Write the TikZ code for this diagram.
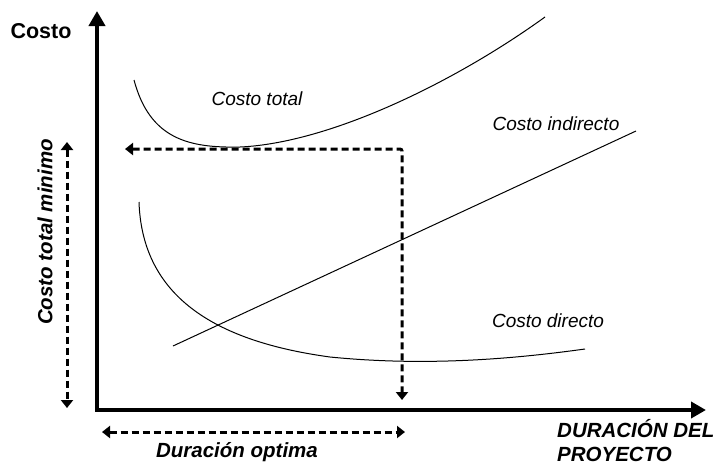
\documentclass[tikz,border=0pt]{standalone}
\usepackage{fontspec}
\setmainfont{Liberation Sans}
\usetikzlibrary{arrows.meta}
\begin{document}
\begin{tikzpicture}[x=1pt,y=-1pt,
  lbl/.style={inner sep=0pt,font=\fontsize{19}{22}\selectfont\itshape},
  blbl/.style={inner sep=0pt,font=\fontsize{20.5}{23}\selectfont\bfseries\itshape},
  axis/.style={line width=4pt,line join=miter},
  dasharrow/.style={line width=3pt,dash pattern=on 7pt off 4pt,{Triangle[length=8pt,width=12pt]}-{Triangle[length=8pt,width=12pt]}},
  curve/.style={line width=1pt}]
\useasboundingbox (0,0) rectangle (713,464);
% coordinates
\coordinate (O) at (97,410);
\coordinate (ytip) at (97,11);
\coordinate (xtip) at (706,410);
% axes
\draw[axis,{Triangle[length=15pt,width=16pt]}-{Triangle[length=15pt,width=16pt]}] (ytip) -- (O) -- (xtip);
% labels
\node[inner sep=0pt,font=\fontsize{21.5}{24}\selectfont\bfseries] (costo) at (41,31) {Costo};
% total cost curve
\draw[curve] (134,80) .. controls (150,140) and (190,148) .. (240,147)
  .. controls (330,143) and (455,82) .. (545,17);
\node[lbl] (ctotal) at (257,99) {Costo total};
% indirect cost
\coordinate (i1) at (173,346);
\coordinate (i2) at (636,131);
\draw[curve] (i1) -- (i2);
\node[lbl] (cind) at (556,124) {Costo indirecto};
% direct cost
\draw[curve] (139,202) .. controls (142,290) and (205,340) .. (330,357)
  .. controls (430,367) and (520,358) .. (585,349);
\node[lbl] (cdir) at (548,321) {Costo directo};
% optimum dashed
\coordinate (hl) at (125,149);
\coordinate (corner) at (402,149);
\coordinate (vb) at (402,400);
\draw[dasharrow,rounded corners=2pt] (hl) -- (corner) -- (vb);
% left vertical dashed
\coordinate (lt) at (67,142);
\coordinate (lb) at (67,408);
\draw[dasharrow] (lt) -- (lb);
\node[blbl,rotate=90] (ctm) at (45,232) {Costo total minimo};
% bottom horizontal dashed
\coordinate (bl) at (102,432);
\coordinate (br) at (405,432);
\draw[dasharrow] (bl) -- (br);
\node[blbl] (dopt) at (237,452) {Duración optima};
% x label
\node[blbl,anchor=base west] (dur1) at (557,437) {DURACIÓN DEL};
\node[blbl,anchor=base west] (dur2) at (557,461) {PROYECTO};
\end{tikzpicture}
\end{document}
